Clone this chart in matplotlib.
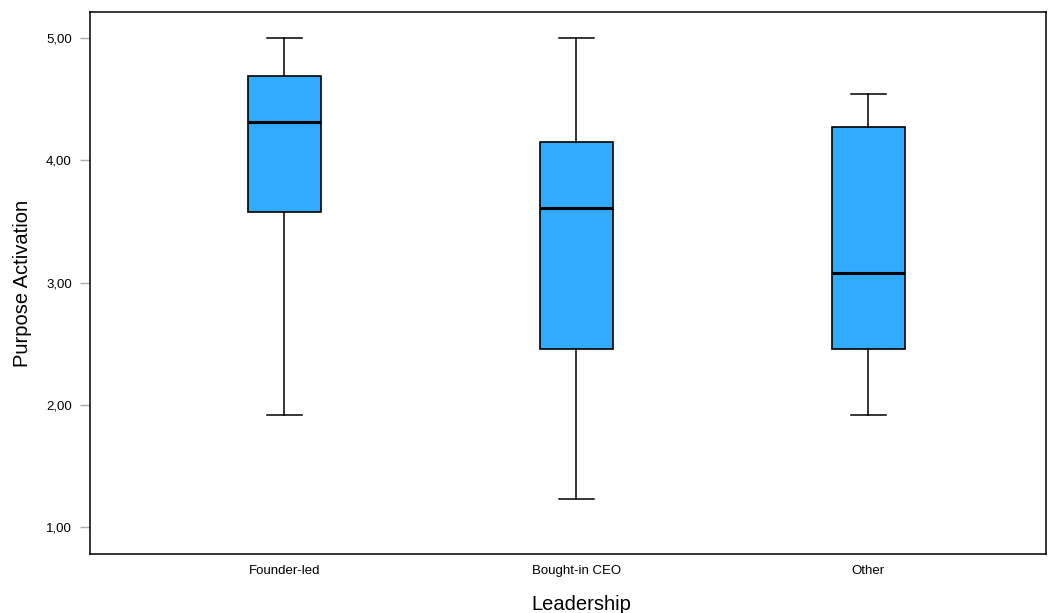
# Box plot of purpose activation by leadership type
import matplotlib.pyplot as plt

plt.rcParams['font.family'] = ['Liberation Sans', 'DejaVu Sans']

# Values
categories = ['Founder-led', 'Bought-in CEO', 'Other']
whisker_low = [1.92, 1.23, 1.92]
q1 = [3.58, 2.46, 2.46]
median = [4.31, 3.61, 3.08]
q3 = [4.69, 4.15, 4.27]
whisker_high = [5.00, 5.00, 4.54]
y_ticks = [1.0, 2.0, 3.0, 4.0, 5.0]

stats = []
for i, name in enumerate(categories):
    stats.append({'label': name, 'whislo': whisker_low[i], 'q1': q1[i], 'med': median[i],
                  'q3': q3[i], 'whishi': whisker_high[i], 'fliers': []})

fig = plt.figure(figsize=(10.51, 6.13), dpi=100)
ax = fig.add_axes([0.0856, 0.0963, 0.9096, 0.8841])

positions = range(1, len(categories) + 1)
ax.bxp(stats, positions=positions, widths=0.25, capwidths=0.12, patch_artist=True,
       showfliers=False,
       boxprops=dict(facecolor='#30abff', edgecolor='black', linewidth=1.2),
       medianprops=dict(color='black', linewidth=2.2),
       whiskerprops=dict(color='black', linewidth=1.1),
       capprops=dict(color='black', linewidth=1.1))

ax.set_xlim(0.334, 3.608)
ax.set_ylim(0.78, 5.213)
ax.set_yticks(y_ticks)
ax.set_yticklabels([('%.2f' % v).replace('.', ',') for v in y_ticks])
ax.set_xticks(list(positions))
ax.set_xticklabels(categories)

ax.tick_params(axis='y', length=7, width=1, color='#aaaaaa', pad=6, labelsize=9.5)
ax.tick_params(axis='x', length=0, pad=8, labelsize=9.5)
for side in ax.spines.values():
    side.set_linewidth(1.1)

ax.set_ylabel('Purpose Activation', fontsize=14.5, labelpad=10)
# label in the reference sits a bit right of the axes centre
ax.set_xlabel('Leadership', fontsize=14.5, labelpad=13, x=0.5136)

plt.savefig('out.png', dpi=100)
